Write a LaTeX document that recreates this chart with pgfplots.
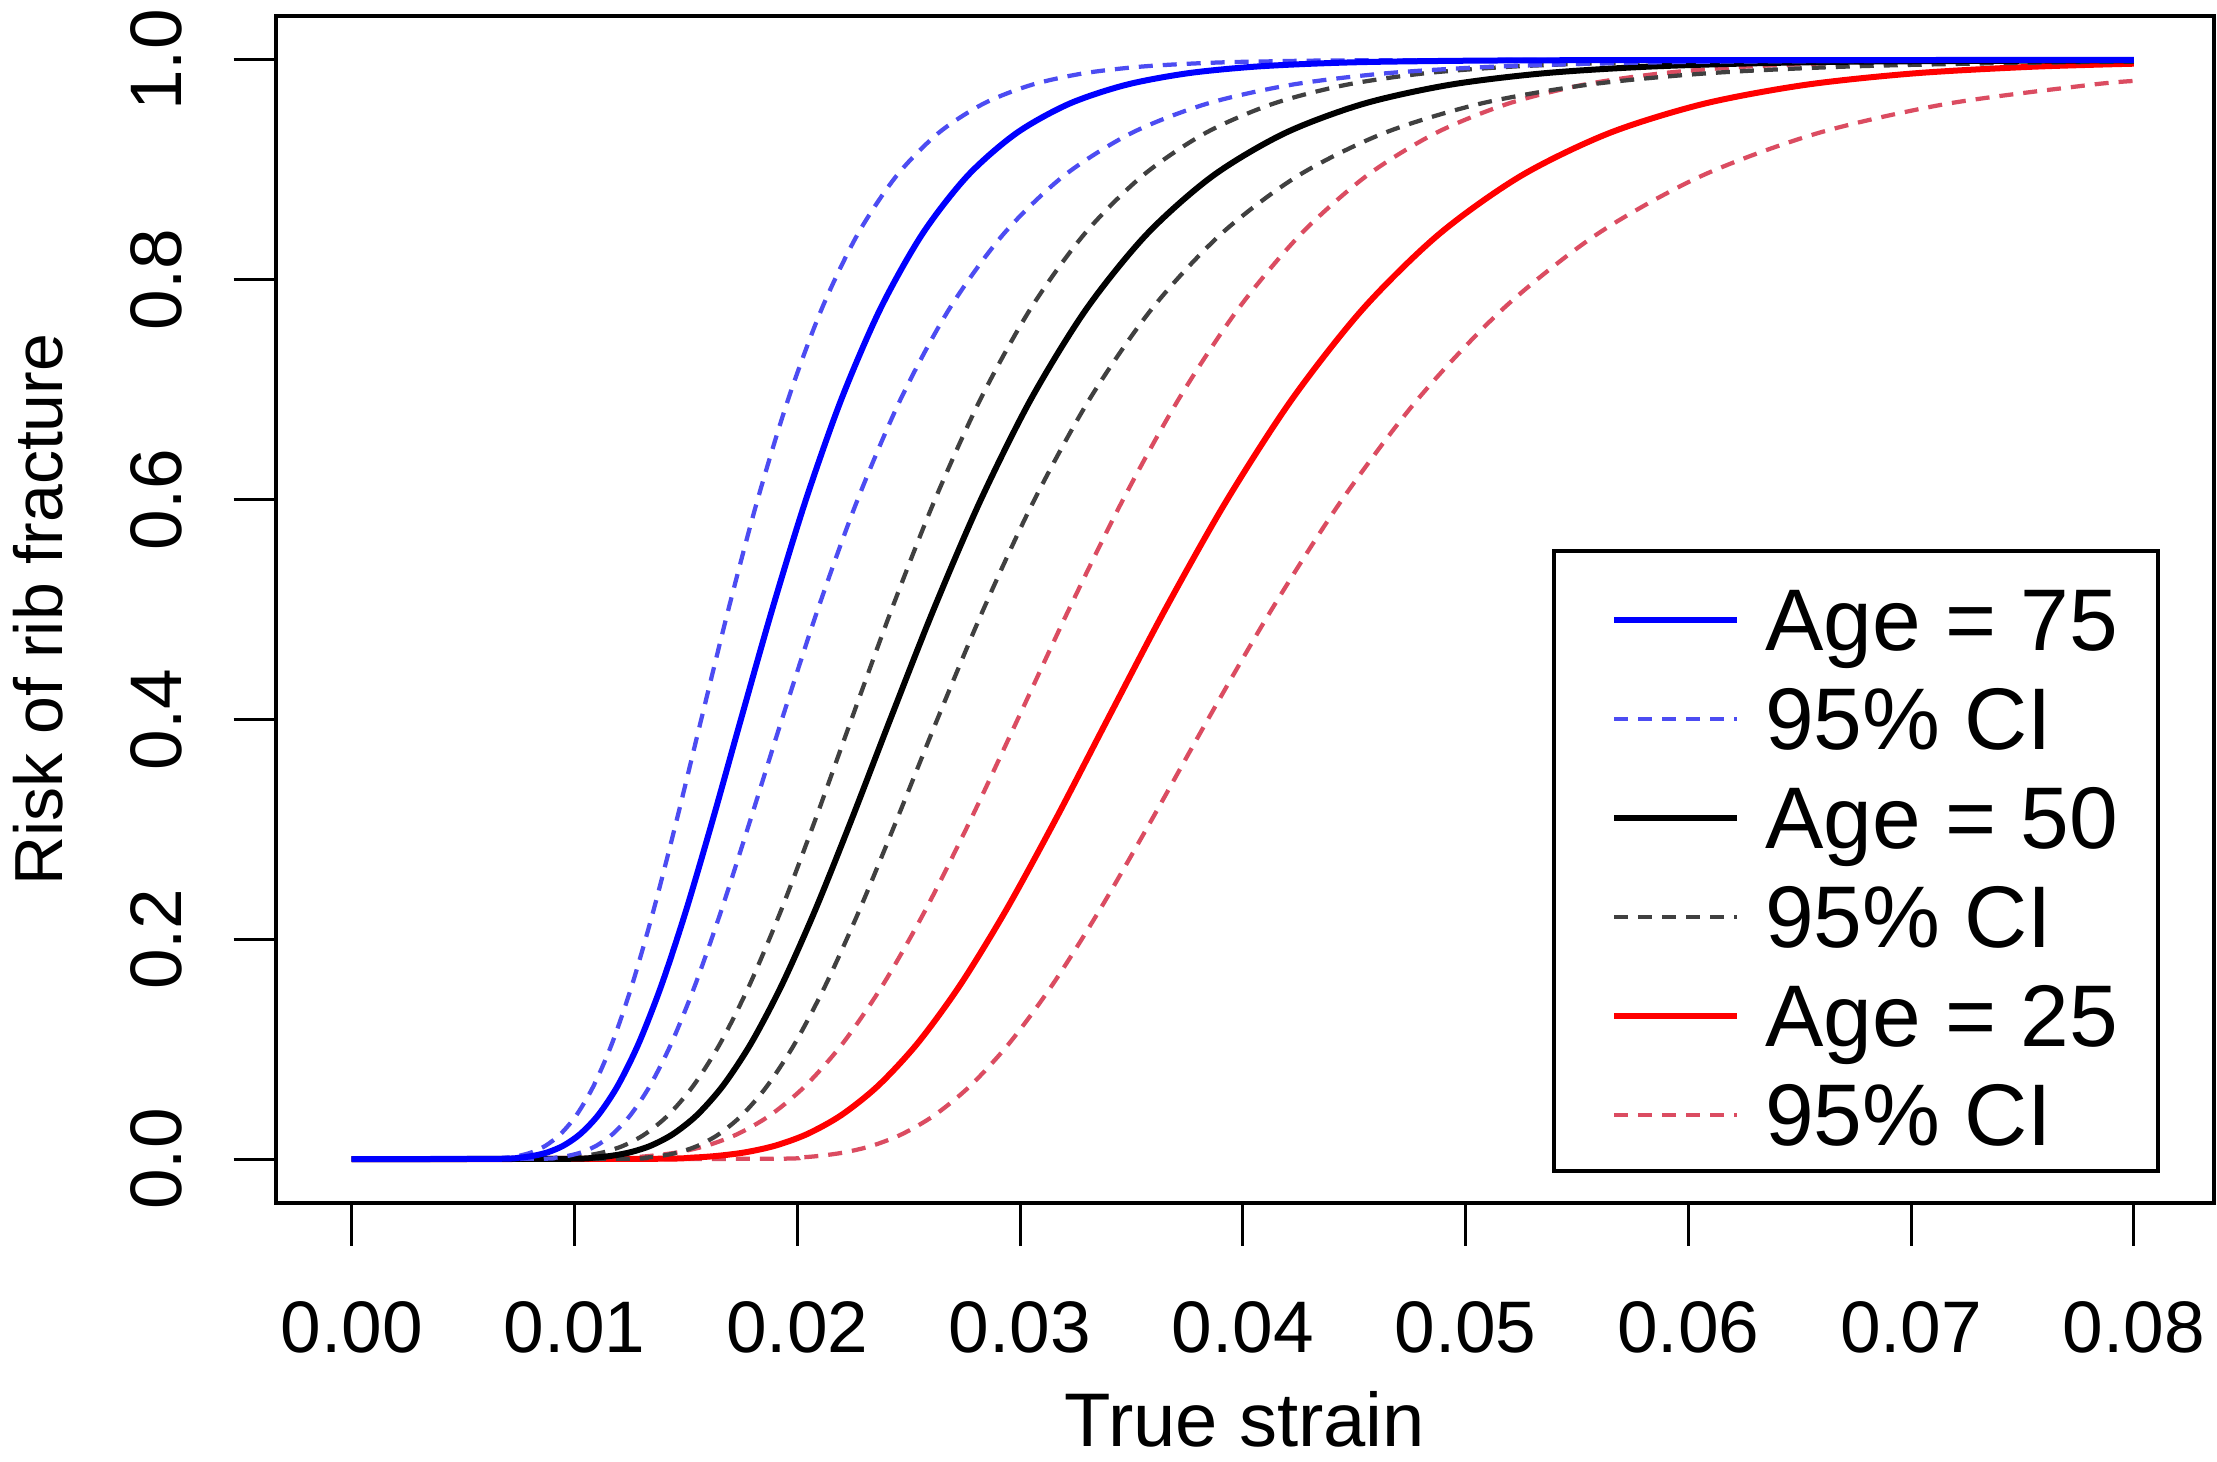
\documentclass[border=0pt]{standalone}
\usepackage{fontspec}
\setmainfont{Liberation Sans}
\usepackage{pgfplots}
\pgfplotsset{compat=1.18}
\definecolor{bluedash}{rgb}{0.30,0.30,0.95}
\definecolor{greydash}{rgb}{0.25,0.25,0.25}
\definecolor{reddash}{rgb}{0.86,0.30,0.38}
\begin{document}
\begin{tikzpicture}
\pgfplotsset{
  solidline/.style={line width=1.2bp, solid},
  dashline/.style={line width=0.85bp, dash pattern=on 2.8bp off 2bp},
}
\begin{axis}[
  scale only axis,
  width=387.6bp, height=237.4bp,
  xmin=-0.0034, xmax=0.0836,
  ymin=-0.04, ymax=1.04,
  scaled x ticks=false, scaled y ticks=false,
  xtick={0,0.01,0.02,0.03,0.04,0.05,0.06,0.07,0.08},
  xticklabels={0.00,0.01,0.02,0.03,0.04,0.05,0.06,0.07,0.08},
  ytick={0,0.2,0.4,0.6,0.8,1.0},
  yticklabels={0.0,0.2,0.4,0.6,0.8,1.0},
  xtick pos=bottom, ytick pos=left,
  tick align=outside,
  major tick length=8.5bp,
  tick style={line width=0.6bp, black},
  axis line style={line width=0.9bp, black},
  /pgf/number format/assume math mode=true,
  ticklabel style={font=\fontsize{14.6bp}{17bp}\selectfont, inner sep=0pt},
  xticklabel style={anchor=north, yshift=-11bp},
  yticklabel style={xshift=-10bp, rotate=90, anchor=south},
  legend cell align=left,
  legend style={at={(1,0)}, anchor=south east, xshift=-10.8bp, yshift=6.0bp,
    draw=black, line width=0.8bp, fill=white,
    inner xsep=8bp, inner ysep=2.6bp,
    font=\fontsize{17.5bp}{20bp}\selectfont, row sep=0pt,
    nodes={inner sep=0pt, text height=17.2bp, text depth=2.6bp},
    /tikz/every odd column/.append style={column sep=5bp}},
  legend image code/.code={\path (0bp,0bp); \draw[#1] (3.4bp,-1.3bp) -- (28bp,-1.3bp);},
]
\addlegendimage{blue, solidline}
\addlegendentry{Age = 75}
\addlegendimage{bluedash, dashline}
\addlegendentry{95\% CI}
\addlegendimage{black, solidline}
\addlegendentry{Age = 50}
\addlegendimage{greydash, dashline}
\addlegendentry{95\% CI}
\addlegendimage{red, solidline}
\addlegendentry{Age = 25}
\addlegendimage{reddash, dashline}
\addlegendentry{95\% CI}

% ---- Age 25, 95% CI (lower bound of strain)
\addplot[forget plot, reddash, dashline, smooth, tension=0.5] coordinates {
(0,0) (0.010322,0.00023) (0.012327,0.00135) (0.013445,0.00298) (0.014647,0.00621) (0.015937,0.01222) (0.017318,0.02275) (0.018796,0.04006) (0.020374,0.06681) (0.022057,0.10565) (0.023849,0.15866) (0.025755,0.22663) (0.027778,0.30854) (0.029923,0.40129) (0.032193,0.5) (0.034592,0.59871) (0.037124,0.69146) (0.039790,0.77337) (0.042596,0.84134) (0.045542,0.89435) (0.048631,0.93319) (0.051864,0.95994) (0.055244,0.97725) (0.058769,0.98778) (0.062443,0.99379) (0.066263,0.99702) (0.070229,0.99865) (0.078591,0.99977) (0.08,1)};
% ---- Age 25, 95% CI (upper bound of strain)
\addplot[forget plot, reddash, dashline, smooth, tension=0.5] coordinates {
(0,0) (0.018216,0.00023) (0.020010,0.00135) (0.021033,0.00298) (0.022151,0.00621) (0.023373,0.01222) (0.024709,0.02275) (0.026171,0.04006) (0.027774,0.06681) (0.029530,0.10565) (0.031458,0.15866) (0.033576,0.22663) (0.035906,0.30854) (0.038470,0.40129) (0.041296,0.5) (0.044415,0.59871) (0.047860,0.69146) (0.051672,0.77337) (0.055894,0.84134) (0.060577,0.89435) (0.065778,0.93319) (0.071562,0.95994) (0.078003,0.97725) (0.08,0.9809)};
% ---- Age 25
\addplot[forget plot, red, solidline, smooth, tension=0.5] coordinates {
(0,0) (0.013233,0.00023) (0.015298,0.00135) (0.016449,0.00298) (0.017685,0.00621) (0.019015,0.01222) (0.020445,0.02275) (0.021983,0.04006) (0.023635,0.06681) (0.025413,0.10565) (0.027323,0.15866) (0.029378,0.22663) (0.031587,0.30854) (0.033962,0.40129) (0.036516,0.5) (0.039262,0.59871) (0.042214,0.69146) (0.045388,0.77337) (0.048801,0.84134) (0.052471,0.89435) (0.056416,0.93319) (0.060659,0.95994) (0.065219,0.97725) (0.070123,0.98778) (0.075396,0.99379) (0.08,0.9966)};
% ---- Age 50, 95% CI (lower)
\addplot[forget plot, greydash, dashline, smooth, tension=0.5] coordinates {
(0,0) (0.008333,0.00023) (0.009706,0.00135) (0.010475,0.00298) (0.011306,0.00621) (0.012202,0.01222) (0.013168,0.02275) (0.014212,0.04006) (0.015338,0.06681) (0.016552,0.10565) (0.017863,0.15866) (0.019280,0.22663) (0.020806,0.30854) (0.022455,0.40129) (0.024235,0.5) (0.026154,0.59871) (0.028227,0.69146) (0.030464,0.77337) (0.032877,0.84134) (0.035482,0.89435) (0.038294,0.93319) (0.041328,0.95994) (0.044602,0.97725) (0.048136,0.98778) (0.051951,0.99379) (0.056067,0.99702) (0.060508,0.99865) (0.070480,0.99977) (0.08,1)};
% ---- Age 50, 95% CI (upper)
\addplot[forget plot, greydash, dashline, smooth, tension=0.5] coordinates {
(0,0) (0.011944,0.00023) (0.013194,0.00135) (0.013909,0.00298) (0.014691,0.00621) (0.015549,0.01222) (0.016490,0.02275) (0.017523,0.04006) (0.018658,0.06681) (0.019906,0.10565) (0.021280,0.15866) (0.022794,0.22663) (0.024465,0.30854) (0.026312,0.40129) (0.028354,0.5) (0.030616,0.59871) (0.033124,0.69146) (0.035910,0.77337) (0.039008,0.84134) (0.042458,0.89435) (0.046305,0.93319) (0.050603,0.95994) (0.055410,0.97725) (0.060795,0.98778) (0.066837,0.99379) (0.073627,0.99702) (0.08,0.9985)};
% ---- Age 50
\addplot[forget plot, black, solidline, smooth, tension=0.5] coordinates {
(0,0) (0.009483,0.00023) (0.010878,0.00135) (0.011662,0.00298) (0.012510,0.00621) (0.013428,0.01222) (0.014422,0.02275) (0.015500,0.04006) (0.016668,0.06681) (0.017936,0.10565) (0.019313,0.15866) (0.020808,0.22663) (0.022432,0.30854) (0.024199,0.40129) (0.026121,0.5) (0.028214,0.59871) (0.030493,0.69146) (0.032977,0.77337) (0.035686,0.84134) (0.038641,0.89435) (0.041867,0.93319) (0.045391,0.95994) (0.049243,0.97725) (0.053454,0.98778) (0.058062,0.99379) (0.063106,0.99702) (0.068632,0.99865) (0.08,0.9997)};
% ---- Age 75, 95% CI (lower)
\addplot[forget plot, bluedash, dashline, smooth, tension=0.5] coordinates {
(0,0) (0.006021,0.00023) (0.006978,0.00135) (0.007512,0.00298) (0.008087,0.00621) (0.008706,0.01222) (0.009372,0.02275) (0.010090,0.04006) (0.010862,0.06681) (0.011693,0.10565) (0.012588,0.15866) (0.013552,0.22663) (0.014589,0.30854) (0.015705,0.40129) (0.016908,0.5) (0.018202,0.59871) (0.019595,0.69146) (0.021095,0.77337) (0.022709,0.84134) (0.024447,0.89435) (0.026318,0.93319) (0.028333,0.95994) (0.030501,0.97725) (0.032836,0.98778) (0.035349,0.99379) (0.038054,0.99702) (0.040967,0.99865) (0.047477,0.99977) (0.08,1)};
% ---- Age 75, 95% CI (upper)
\addplot[forget plot, bluedash, dashline, smooth, tension=0.5] coordinates {
(0,0) (0.008203,0.00023) (0.009168,0.00135) (0.009720,0.00298) (0.010324,0.00621) (0.010987,0.01222) (0.011714,0.02275) (0.012512,0.04006) (0.013390,0.06681) (0.014356,0.10565) (0.015421,0.15866) (0.016597,0.22663) (0.017895,0.30854) (0.019331,0.40129) (0.020921,0.5) (0.022685,0.59871) (0.024643,0.69146) (0.026821,0.77337) (0.029246,0.84134) (0.031951,0.89435) (0.034971,0.93319) (0.038348,0.95994) (0.042130,0.97725) (0.046372,0.98778) (0.051137,0.99379) (0.056497,0.99702) (0.062537,0.99865) (0.077054,0.99977) (0.08,1)};
% ---- Age 75
\addplot[forget plot, blue, solidline, smooth, tension=0.5] coordinates {
(0,0) (0.006490,0.00023) (0.007559,0.00135) (0.008158,0.00298) (0.008805,0.00621) (0.009503,0.01222) (0.010255,0.02275) (0.011068,0.04006) (0.011945,0.06681) (0.012891,0.10565) (0.013912,0.15866) (0.015015,0.22663) (0.016204,0.30854) (0.017488,0.40129) (0.018874,0.5) (0.020369,0.59871) (0.021983,0.69146) (0.023725,0.77337) (0.025605,0.84134) (0.027633,0.89435) (0.029823,0.93319) (0.032186,0.95994) (0.034736,0.97725) (0.037488,0.98778) (0.040459,0.99379) (0.043665,0.99702) (0.047124,0.99865) (0.054890,0.99977) (0.08,1)};
\end{axis}
\node[rotate=90, anchor=south, inner sep=0pt, font=\fontsize{13.6bp}{16bp}\selectfont] at ([xshift=-42.4bp]current axis.west) {Risk of rib fracture};
\node[anchor=north, inner sep=0pt, font=\fontsize{15.2bp}{18bp}\selectfont] at ([yshift=-37.4bp]current axis.south) {True strain};
\pgfresetboundingbox
\path[use as bounding box] ([xshift=-55.2bp,yshift=-51.6bp]current axis.south west) rectangle ([xshift=0.6bp,yshift=3.2bp]current axis.north east);
\end{tikzpicture}
\end{document}
